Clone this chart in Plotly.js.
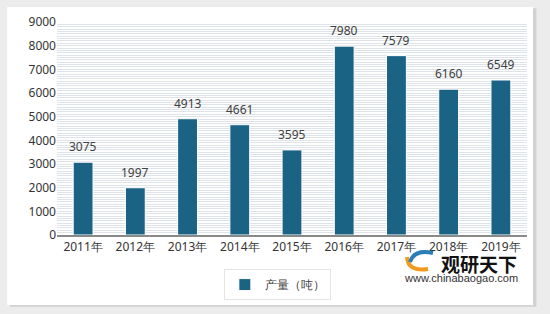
<!DOCTYPE html>
<html><head><meta charset="utf-8">
<script src="https://cdn.plot.ly/plotly-3.0.1.min.js"></script>
<style>body{margin:0;padding:0;}#chart{width:550px;height:314px;}</style>
</head><body><div id="chart"></div>
<script>
const years = ['2011年','2012年','2013年','2014年','2015年','2016年','2017年','2018年','2019年'];
const output = [3075, 1997, 4913, 4661, 3595, 7980, 7579, 6160, 6549];
const seriesName = '产量（吨）';
const yTicks = [0,1000,2000,3000,4000,5000,6000,7000,8000,9000];

const trace = {
  type:'bar', x: years, y: output, name: seriesName,
  marker:{color:'#1a6385', line:{color:'#ffffff', width:1}},
  width:0.38, showlegend:true
};
const px = v => (v-57)/470, py = v => (235-v)/213;
function pathOf(pts){ // pts: [['M',x,y],['Q',x1,y1,x,y],...] in pixels
  return pts.map(p => p[0] + ' ' + p.slice(1).map((v,i)=> i%2===0 ? px(v).toFixed(4) : py(v).toFixed(4)).join(' ')).join(' ');
}
const labelAnn = years.map((c,i) => ({x:c, y:output[i], xref:'x', yref:'y', text:String(output[i]),
  showarrow:false, yanchor:'bottom', yshift:5,
  font:{family:'Noto Sans, sans-serif', size:12, color:'#404040'}}));

const layout = {
  width:550, height:314,
  margin:{l:57, r:23, t:22, b:79},
  paper_bgcolor:'#ececec', plot_bgcolor:'#f6f8fa',
  font:{family:'Noto Sans, sans-serif', size:12, color:'#333333'},
  xaxis:{showline:true, linecolor:'#8a8a8a', linewidth:1.5, ticks:'', showgrid:false,
    tickfont:{size:12, color:'#333'}},
  yaxis:{range:[0,9000], tickvals:yTicks, showline:false, zeroline:false,
    gridcolor:'#dde3e8', gridwidth:1, ticks:'', tickfont:{size:12,color:'#333'},
    minor:{dtick:100, showgrid:true, gridcolor:'#dde3e8', gridwidth:1}},
  showlegend:true,
  legend:{orientation:'h', x:0.355, xanchor:'left', y:-0.16, yanchor:'top',
    bgcolor:'#ffffff', bordercolor:'#e4e4e4', borderwidth:1, itemwidth:30,
    font:{size:12,color:'#404040'}},
  shapes:[
    {type:'rect', xref:'paper', yref:'paper', x0:-0.1, x1:1.02, y0:-0.337, y1:1.064, layer:'below', line:{width:0}, fillcolor:'#d2d2d2'},
    {type:'rect', xref:'paper', yref:'paper', x0:-0.106, x1:1.0128, y0:-0.329, y1:1.070, layer:'below', line:{width:0}, fillcolor:'#ffffff'},
    {type:'path', xref:'paper', yref:'paper', layer:'above', line:{color:'#f39a1e', width:4},
      path: pathOf([['M',407,257],['Q',408,272,428,269]])},
    {type:'path', xref:'paper', yref:'paper', layer:'above', line:{color:'#2a7fb8', width:4},
      path: pathOf([['M',410,262],['Q',414,249,433,253]])}
  ],
  annotations: labelAnn.concat([
    {xref:'paper', yref:'paper', x:px(479), y:py(263), xanchor:'center', yanchor:'middle', text:'<b>观研天下</b>', showarrow:false,
      font:{family:'Noto Sans CJK SC', size:19, color:'#111'}},
    {xref:'paper', yref:'paper', x:px(461), y:py(278), xanchor:'center', yanchor:'middle', text:'www.chinabaogao.com', showarrow:false,
      font:{family:'Liberation Sans', size:11, color:'#333'}}
  ]),
  bargap:0.6
};
Plotly.newPlot('chart',[trace],layout,{displayModeBar:false, staticPlot:true});
</script></body></html>
